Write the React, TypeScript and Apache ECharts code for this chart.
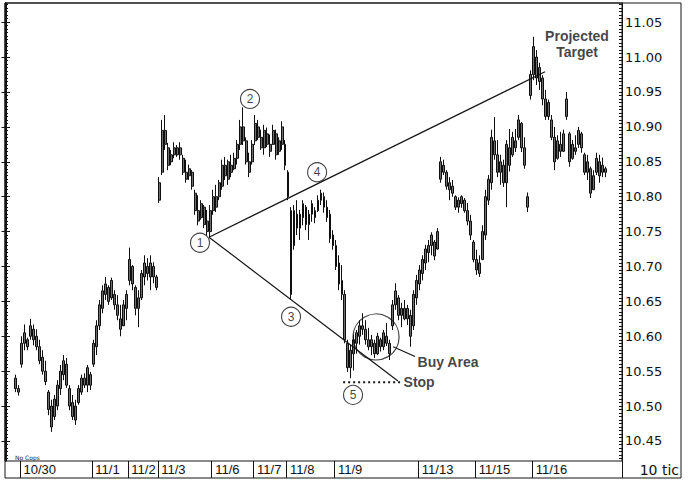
import React, { useEffect, useRef } from "react";
import * as echarts from "echarts";

// Trading sessions shown in the date strip and the bar slot where each begins.
const sessionLabels = ["10/30", "11/1", "11/2", "11/3", "11/6", "11/7", "11/8", "11/9", "11/13", "11/15", "11/16"];
const sessionStartBars = [5, 29, 41, 51, 69, 83, 94, 110, 138, 157, 176];

// Horizontal slots on the price panel; the first bar sits in slot FIRST_BAR.
const SLOT_COUNT = 206;
const FIRST_BAR = 3;

// 10-tick bars, one entry per bar.
const opens = [
  10.54, 10.525, 10.56, 10.59, 10.595, 10.6, 10.61, 10.6, 10.585, 10.57,
  10.55, 10.52, 10.5, 10.485, 10.5, 10.525, 10.545, 10.56, 10.525, 10.505,
  10.48, 10.505, 10.52, 10.54, 10.53, 10.545, 10.56, 10.585, 10.615, 10.64,
  10.66, 10.67, 10.655, 10.66, 10.645, 10.625, 10.615, 10.64, 10.68, 10.7,
  10.67, 10.64, 10.655, 10.685, 10.7, 10.685, 10.7, 10.685, 10.795, 10.835,
  10.895, 10.87, 10.85, 10.86, 10.87, 10.86, 10.855, 10.835, 10.83, 10.835,
  10.805, 10.78, 10.77, 10.785, 10.765, 10.75, 10.78, 10.8, 10.8, 10.815,
  10.845, 10.825, 10.845, 10.84, 10.855, 10.875, 10.9, 10.88, 10.85, 10.85,
  10.88, 10.9, 10.885, 10.87, 10.89, 10.875, 10.875, 10.89, 10.865, 10.875,
  10.875, 10.835, 10.78, 10.73, 10.775, 10.755, 10.77, 10.785, 10.76, 10.775,
  10.78, 10.78, 10.795, 10.8, 10.785, 10.775, 10.745, 10.73, 10.705, 10.68,
  10.66, 10.59, 10.555, 10.575, 10.59, 10.6, 10.615, 10.61, 10.595, 10.585,
  10.59, 10.575, 10.595, 10.585, 10.6, 10.59, 10.615, 10.645, 10.655, 10.63,
  10.64, 10.625, 10.63, 10.615, 10.655, 10.675, 10.69, 10.705, 10.72, 10.73,
  10.735, 10.725, 10.825, 10.845, 10.835, 10.81, 10.815, 10.8, 10.785, 10.79,
  10.795, 10.78, 10.765, 10.735, 10.71, 10.69, 10.71, 10.745, 10.795, 10.82,
  10.88, 10.86, 10.835, 10.845, 10.82, 10.87, 10.86, 10.88, 10.885, 10.905,
  10.87, 10.8, 10.945, 10.975, 11.0, 10.965, 10.97, 10.94, 10.915, 10.91,
  10.885, 10.855, 10.875, 10.865, 10.915, 10.89, 10.855, 10.87, 10.875, 10.89,
  10.86, 10.835, 10.84, 10.81, 10.835, 10.85, 10.835, 10.84,
];
const closes = [
  10.525, 10.52, 10.59, 10.605, 10.585, 10.615, 10.595, 10.585, 10.565, 10.55,
  10.535, 10.495, 10.47, 10.51, 10.53, 10.55, 10.565, 10.53, 10.5, 10.485,
  10.5, 10.525, 10.54, 10.53, 10.555, 10.53, 10.59, 10.615, 10.645, 10.665,
  10.675, 10.65, 10.68, 10.645, 10.63, 10.61, 10.645, 10.66, 10.71, 10.675,
  10.64, 10.655, 10.69, 10.705, 10.69, 10.705, 10.685, 10.67, 10.82, 10.895,
  10.875, 10.845, 10.86, 10.87, 10.86, 10.87, 10.835, 10.825, 10.84, 10.815,
  10.78, 10.765, 10.79, 10.76, 10.75, 10.78, 10.8, 10.785, 10.82, 10.845,
  10.83, 10.85, 10.835, 10.855, 10.875, 10.9, 10.88, 10.85, 10.835, 10.875,
  10.905, 10.885, 10.87, 10.895, 10.875, 10.865, 10.895, 10.86, 10.88, 10.9,
  10.845, 10.8, 10.66, 10.78, 10.755, 10.775, 10.79, 10.76, 10.775, 10.79,
  10.77, 10.795, 10.805, 10.785, 10.77, 10.74, 10.73, 10.7, 10.675, 10.66,
  10.595, 10.555, 10.58, 10.595, 10.605, 10.615, 10.61, 10.595, 10.585, 10.595,
  10.575, 10.6, 10.585, 10.605, 10.59, 10.575, 10.645, 10.665, 10.63, 10.64,
  10.625, 10.64, 10.6, 10.66, 10.68, 10.695, 10.71, 10.725, 10.73, 10.745,
  10.715, 10.75, 10.85, 10.835, 10.815, 10.82, 10.805, 10.785, 10.795, 10.8,
  10.78, 10.765, 10.745, 10.71, 10.695, 10.705, 10.75, 10.8, 10.825, 10.885,
  10.86, 10.835, 10.85, 10.82, 10.875, 10.845, 10.885, 10.87, 10.91, 10.87,
  10.845, 10.785, 10.975, 11.015, 10.97, 10.985, 10.94, 10.915, 10.935, 10.885,
  10.85, 10.88, 10.865, 10.89, 10.94, 10.85, 10.875, 10.865, 10.895, 10.87,
  10.835, 10.85, 10.805, 10.83, 10.855, 10.83, 10.845, 10.835,
];
const lows = [
  10.52, 10.515, 10.555, 10.58, 10.58, 10.595, 10.587, 10.58, 10.56, 10.545,
  10.53, 10.487, 10.463, 10.48, 10.494, 10.516, 10.537, 10.526, 10.494, 10.48,
  10.473, 10.502, 10.516, 10.526, 10.52, 10.523, 10.556, 10.573, 10.609, 10.633,
  10.652, 10.645, 10.652, 10.638, 10.623, 10.6, 10.616, 10.623, 10.673, 10.666,
  10.63, 10.613, 10.652, 10.673, 10.68, 10.666, 10.676, 10.666, 10.791, 10.831,
  10.867, 10.838, 10.845, 10.855, 10.857, 10.853, 10.831, 10.82, 10.824, 10.81,
  10.774, 10.759, 10.767, 10.755, 10.744, 10.742, 10.774, 10.778, 10.795, 10.81,
  10.824, 10.817, 10.828, 10.838, 10.846, 10.867, 10.874, 10.846, 10.828, 10.846,
  10.874, 10.881, 10.867, 10.86, 10.871, 10.857, 10.874, 10.853, 10.86, 10.867,
  10.838, 10.795, 10.652, 10.724, 10.745, 10.738, 10.759, 10.752, 10.738, 10.764,
  10.762, 10.778, 10.788, 10.777, 10.764, 10.734, 10.724, 10.695, 10.666, 10.652,
  10.59, 10.549, 10.54, 10.551, 10.575, 10.588, 10.602, 10.588, 10.58, 10.573,
  10.569, 10.573, 10.578, 10.58, 10.586, 10.566, 10.609, 10.638, 10.623, 10.613,
  10.623, 10.616, 10.585, 10.609, 10.645, 10.666, 10.68, 10.695, 10.706, 10.716,
  10.709, 10.724, 10.82, 10.831, 10.81, 10.795, 10.8, 10.781, 10.777, 10.784,
  10.777, 10.759, 10.738, 10.706, 10.688, 10.685, 10.709, 10.738, 10.788, 10.81,
  10.853, 10.828, 10.817, 10.814, 10.785, 10.836, 10.857, 10.864, 10.881, 10.864,
  10.84, 10.778, 10.939, 10.967, 10.96, 10.953, 10.931, 10.91, 10.91, 10.881,
  10.838, 10.853, 10.857, 10.864, 10.91, 10.843, 10.853, 10.86, 10.87, 10.863,
  10.831, 10.824, 10.798, 10.81, 10.831, 10.82, 10.828, 10.828,
];
const highs = [
  10.545, 10.53, 10.6, 10.617, 10.598, 10.625, 10.617, 10.61, 10.595, 10.58,
  10.565, 10.523, 10.509, 10.516, 10.537, 10.559, 10.573, 10.569, 10.53, 10.516,
  10.509, 10.53, 10.545, 10.547, 10.559, 10.549, 10.595, 10.623, 10.652, 10.673,
  10.685, 10.673, 10.684, 10.666, 10.659, 10.645, 10.652, 10.666, 10.727, 10.702,
  10.673, 10.666, 10.695, 10.716, 10.712, 10.716, 10.706, 10.688, 10.828, 10.91,
  10.917, 10.877, 10.867, 10.878, 10.874, 10.878, 10.86, 10.853, 10.846, 10.838,
  10.81, 10.802, 10.795, 10.788, 10.781, 10.788, 10.81, 10.817, 10.824, 10.853,
  10.857, 10.853, 10.86, 10.863, 10.881, 10.91, 10.928, 10.885, 10.863, 10.881,
  10.917, 10.91, 10.896, 10.903, 10.899, 10.889, 10.903, 10.896, 10.885, 10.908,
  10.881, 10.838, 10.785, 10.788, 10.795, 10.781, 10.795, 10.788, 10.781, 10.795,
  10.785, 10.802, 10.81, 10.806, 10.795, 10.781, 10.752, 10.738, 10.716, 10.702,
  10.666, 10.595, 10.588, 10.602, 10.609, 10.623, 10.633, 10.623, 10.612, 10.602,
  10.595, 10.605, 10.598, 10.609, 10.619, 10.595, 10.652, 10.676, 10.659, 10.648,
  10.652, 10.645, 10.638, 10.666, 10.688, 10.702, 10.716, 10.731, 10.738, 10.749,
  10.738, 10.755, 10.857, 10.853, 10.838, 10.828, 10.824, 10.802, 10.799, 10.802,
  10.798, 10.791, 10.774, 10.738, 10.724, 10.716, 10.759, 10.81, 10.831, 10.896,
  10.914, 10.881, 10.86, 10.853, 10.881, 10.897, 10.893, 10.897, 10.917, 10.907,
  10.885, 10.806, 10.981, 11.029, 11.01, 10.992, 10.974, 10.953, 10.939, 10.917,
  10.9, 10.888, 10.893, 10.896, 10.95, 10.893, 10.881, 10.888, 10.9, 10.893,
  10.863, 10.86, 10.843, 10.838, 10.863, 10.86, 10.856, 10.843,
];

// Price scale.
const priceTicks = ["10.45", "10.50", "10.55", "10.60", "10.65", "10.70", "10.75", "10.80", "10.85", "10.90", "10.95", "11.00", "11.05"];
const PRICE_MIN = 10.4213;
const PRICE_MAX = 11.0775;
const MINOR_STEP = 0.005;

// Pattern annotations, in [slot, price].
const pivots: [number, number, string][] = [
  [64.6, 10.734, "1"],
  [81.3, 10.94, "2"],
  [95.0, 10.628, "3"],
  [103.7, 10.835, "4"],
  [115.7, 10.516, "5"],
];
const upperLine: [number, number][] = [[67.6, 10.742], [179.8, 10.979]];
const lowerLine: [number, number][] = [[67.6, 10.742], [130.7, 10.536]];
const stopLine: [number, number][] = [[112.4, 10.534], [131.4, 10.534]];
const buyArea: [number, number] = [123.4, 10.599];
const buyPointer: [number, number][] = [[129.1, 10.585], [136.4, 10.571]];

const INK = "#141414";

export default function App() {
  const ref = useRef<HTMLDivElement>(null);

  useEffect(() => {
    if (!ref.current) return;
    const chart = echarts.init(ref.current, null, { renderer: "svg" });

    const slots = Array.from({ length: SLOT_COUNT }, (_, i) => String(i));
    const candles = opens.map((o, k) => [FIRST_BAR + k, o, closes[k], lows[k], highs[k]]);
    const majorTicks = priceTicks.map(Number);
    const minorTicks: number[] = [];
    for (let v = 10.425; v <= PRICE_MAX; v += MINOR_STEP) minorTicks.push(Number(v.toFixed(3)));
    const isSessionStart = (i: number) => sessionStartBars.includes(i);

    const tickAxis = (position: "left" | "right", values: number[], length: number, labels: boolean) => ({
      type: "value",
      gridIndex: 0,
      position,
      min: PRICE_MIN,
      max: PRICE_MAX,
      splitLine: { show: false },
      axisLine: { show: true, lineStyle: { color: INK, width: 1 } },
      axisTick: { show: true, inside: true, length, customValues: values, lineStyle: { color: INK, width: 1 } },
      axisLabel: labels
        ? {
            show: true,
            customValues: values,
            formatter: (v: number) => v.toFixed(2),
            margin: 3,
            fontSize: 13,
            fontFamily: "DejaVu Sans",
            color: "#111",
          }
        : { show: false },
    });

    const boldLabel = {
      fontFamily: "Liberation Sans",
      fontWeight: "bold",
      fontSize: 14,
      color: "#111",
    };

    chart.setOption({
      animation: false,
      backgroundColor: "#ffffff",
      grid: [
        { left: 5, top: 3, width: 617, height: 458, show: true, borderColor: INK, borderWidth: 1 },
        { left: 5, top: 461, width: 617, height: 17, show: false },
      ],
      xAxis: [
        { type: "category", gridIndex: 0, data: slots, show: false },
        { type: "value", gridIndex: 0, min: -0.5, max: SLOT_COUNT - 0.5, show: false },
        {
          type: "category",
          gridIndex: 1,
          data: slots,
          position: "bottom",
          axisLine: { show: false },
          axisTick: { show: false },
          axisLabel: {
            interval: (i: number) => isSessionStart(i),
            formatter: (_v: string, i: number) => sessionLabels[sessionStartBars.indexOf(i)] ?? "",
            inside: true,
            align: "left",
            margin: 2,
            padding: [0, 0, 0, 2],
            fontSize: 13,
            fontFamily: "Liberation Sans",
            color: "#111",
          },
          splitLine: {
            show: true,
            interval: (i: number) => isSessionStart(i),
            lineStyle: { color: INK, width: 1 },
          },
        },
      ],
      yAxis: [
        tickAxis("right", majorTicks, 5, true),
        tickAxis("right", minorTicks, 3, false),
        tickAxis("left", majorTicks, 5, false),
        tickAxis("left", minorTicks, 3, false),
        { type: "value", gridIndex: 1, show: false },
      ],
      series: [
        {
          type: "candlestick",
          xAxisIndex: 0,
          yAxisIndex: 0,
          data: candles,
          encode: { x: 0, y: [1, 2, 3, 4] },
          barWidth: 2.4,
          itemStyle: {
            color: "#6e6e6e",
            color0: "#6e6e6e",
            borderColor: "#0e0e0e",
            borderColor0: "#0e0e0e",
            borderWidth: 1,
          },
          z: 2,
        },
        {
          type: "line",
          xAxisIndex: 1,
          yAxisIndex: 0,
          data: upperLine,
          symbol: "none",
          lineStyle: { color: INK, width: 1.2 },
          z: 3,
        },
        {
          type: "line",
          xAxisIndex: 1,
          yAxisIndex: 0,
          data: lowerLine,
          symbol: "none",
          lineStyle: { color: INK, width: 1.2 },
          z: 3,
        },
        {
          type: "line",
          xAxisIndex: 1,
          yAxisIndex: 0,
          data: stopLine,
          symbol: "none",
          lineStyle: { color: INK, width: 2, type: [2, 3] },
          z: 3,
        },
        {
          type: "line",
          xAxisIndex: 1,
          yAxisIndex: 0,
          data: buyPointer,
          symbol: "none",
          lineStyle: { color: INK, width: 1.2 },
          z: 3,
        },
        {
          type: "scatter",
          xAxisIndex: 1,
          yAxisIndex: 0,
          data: [buyArea],
          symbol: "circle",
          symbolSize: 46,
          itemStyle: { color: "rgba(0,0,0,0)", borderColor: INK, borderWidth: 1.2 },
          z: 4,
        },
        {
          type: "scatter",
          xAxisIndex: 1,
          yAxisIndex: 0,
          data: pivots,
          symbol: "circle",
          symbolSize: 19,
          itemStyle: { color: "#ffffff", borderColor: INK, borderWidth: 1.1 },
          label: {
            show: true,
            position: "inside",
            formatter: (p: any) => p.data[2],
            fontFamily: "Liberation Sans",
            fontSize: 12,
            color: "#111",
          },
          z: 5,
        },
        {
          type: "scatter",
          xAxisIndex: 1,
          yAxisIndex: 0,
          symbolSize: 1,
          itemStyle: { color: "rgba(0,0,0,0)" },
          z: 5,
          data: [
            {
              value: upperLine[1],
              label: {
                show: true,
                formatter: "Projected\nTarget",
                position: "top",
                offset: [32, -6],
                align: "center",
                lineHeight: 16,
                ...boldLabel,
              },
            },
            {
              value: buyPointer[1],
              label: { show: true, formatter: "Buy Area", position: "right", distance: 2, offset: [0, 5], ...boldLabel },
            },
            {
              value: stopLine[1],
              label: { show: true, formatter: "Stop", position: "right", distance: 3, ...boldLabel },
            },
          ],
        },
      ],
      graphic: [
        {
          type: "rect",
          shape: { x: 5, y: 3, width: 676, height: 475 },
          style: { fill: "none", stroke: INK, lineWidth: 1 },
          silent: true,
        },
        {
          type: "text",
          x: 15,
          y: 457,
          style: {
            text: "No Cops",
            font: '6px "DejaVu Sans"',
            fill: "#222",
            align: "left",
            verticalAlign: "middle",
            textAlign: "left",
            textVerticalAlign: "middle",
          },
          silent: true,
        },
        {
          type: "text",
          x: 679,
          y: 470,
          style: {
            text: "10 tic",
            font: '14px "DejaVu Sans"',
            fill: "#111",
            align: "right",
            verticalAlign: "middle",
            textAlign: "right",
            textVerticalAlign: "middle",
          },
          silent: true,
        },
      ],
    });

    return () => chart.dispose();
  }, []);

  return (
    <div
      ref={ref}
      style={{ position: "fixed", left: 0, top: 0, width: 688, height: 483, background: "#fff" }}
    />
  );
}
